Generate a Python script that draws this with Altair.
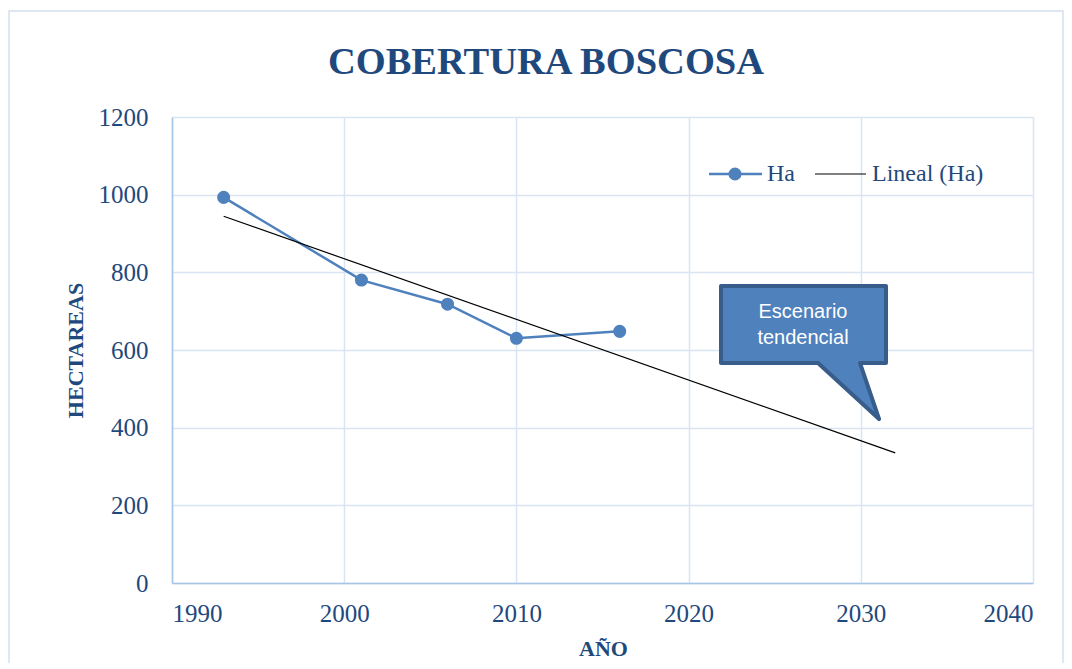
import altair as alt
import pandas as pd

# ---- data ----
years = [1993, 2001, 2006, 2010, 2016]
hectares = [993, 780, 718, 630, 648]
trend_extent = [1993, 2032]
x_ticks = [1990, 2000, 2010, 2020, 2030, 2040]
y_ticks = [0, 200, 400, 600, 800, 1000, 1200]
title_text = "COBERTURA BOSCOSA"
x_title = "AÑO"
y_title = "HECTAREAS"
legend_labels = ["Ha", "Lineal (Ha)"]
callout_lines = ["Escenario", "tendencial"]

df = pd.DataFrame({"year": years, "ha": hectares})
one = pd.DataFrame({"k": [0]})

SERIF = "Liberation Serif"
TXT = "#1F497D"
BLUE = "#4F81BD"
DARK = "#385D8A"
W, H = 861, 466

x_enc = alt.X(
    "year:Q",
    scale=alt.Scale(domain=[1990, 2040], nice=False, zero=False),
    axis=alt.Axis(values=x_ticks, format="d", title=x_title,
                  titleX=431, titleY=65, titleBaseline="middle", titleAlign="center"),
)
y_enc = alt.Y(
    "ha:Q",
    scale=alt.Scale(domain=[0, 1200], nice=False),
    axis=alt.Axis(values=y_ticks, format="d", title=y_title,
                  titleX=-97, titleY=233, titleAngle=-90,
                  titleBaseline="middle", titleAlign="center"),
)

base = alt.Chart(df)

series_line = base.mark_line(color=BLUE, strokeWidth=2.5).encode(x=x_enc, y=y_enc)
series_pts = base.mark_point(filled=True, color=BLUE, size=170, opacity=1).encode(x=x_enc, y=y_enc)
trend = base.transform_regression("year", "ha", extent=trend_extent).mark_line(
    color="black", strokeWidth=1.2
).encode(x=x_enc, y=y_enc)

deco = alt.Chart(one)

# chart title
title = deco.mark_text(align="center", baseline="alphabetic", font=SERIF, fontSize=38.5,
                       fontWeight="bold", color=TXT).encode(
    x=alt.value(374), y=alt.value(-43), text=alt.value(title_text)
)

# outer chart border
border = deco.mark_rect(fill="white", fillOpacity=0, stroke="#D5E0EE", strokeWidth=1.5).encode(
    x=alt.value(-163), x2=alt.value(891), y=alt.value(-106), y2=alt.value(570)
)

# legend (manual)
leg_line1 = deco.mark_rule(color=BLUE, strokeWidth=2.5).encode(
    x=alt.value(537), x2=alt.value(590), y=alt.value(57)
)
leg_pt1 = deco.mark_point(filled=True, color=BLUE, size=170, opacity=1).encode(
    x=alt.value(563), y=alt.value(57)
)
leg_txt1 = deco.mark_text(align="left", baseline="middle", font=SERIF, fontSize=24, color=TXT).encode(
    x=alt.value(595), y=alt.value(57), text=alt.value(legend_labels[0])
)
leg_line2 = deco.mark_rule(color="black", strokeWidth=1.2).encode(
    x=alt.value(643), x2=alt.value(694), y=alt.value(57)
)
leg_txt2 = deco.mark_text(align="left", baseline="middle", font=SERIF, fontSize=24, color=TXT).encode(
    x=alt.value(700), y=alt.value(57), text=alt.value(legend_labels[1])
)

# callout shape
callout_path = ("M -0.994 -0.801 L 0.994 -0.801 L 0.994 0.127 L 0.681 0.127 "
                "L 0.910 0.801 L 0.175 0.127 L -0.994 0.127 Z")
callout = deco.mark_point(shape=callout_path, size=166 * 166, filled=True, color=BLUE,
                          stroke=DARK, strokeWidth=4, strokeJoin="round", opacity=1).encode(
    x=alt.value(631.5), y=alt.value(235.5)
)
callout_t1 = deco.mark_text(align="center", baseline="middle", font="Liberation Sans",
                            fontSize=20, color="white").encode(
    x=alt.value(631), y=alt.value(195), text=alt.value(callout_lines[0])
)
callout_t2 = deco.mark_text(align="center", baseline="middle", font="Liberation Sans",
                            fontSize=20, color="white").encode(
    x=alt.value(631), y=alt.value(221), text=alt.value(callout_lines[1])
)

chart = alt.layer(
    border, title, series_line, trend, series_pts,
    leg_line1, leg_pt1, leg_txt1, leg_line2, leg_txt2,
    callout, callout_t1, callout_t2,
).properties(
    width=W, height=H,
    autosize=alt.AutoSizeParams(type="none"),
    padding={"left": 164, "top": 109, "right": 31, "bottom": 80},
).configure_view(stroke=None).configure_axis(
    domainColor="#A6C3E8", domainWidth=1.5,
    gridColor="#DAE5F4", gridWidth=1.5,
    ticks=False, tickSize=0,
    labelFont=SERIF, labelFontSize=25, labelColor=TXT,
    titleFont=SERIF, titleFontSize=22, titleFontWeight="bold", titleColor=TXT,
).configure_axisX(labelPadding=18).configure_axisY(labelPadding=24)

chart.save("out.html", embed_options={"renderer": "svg", "actions": False})
